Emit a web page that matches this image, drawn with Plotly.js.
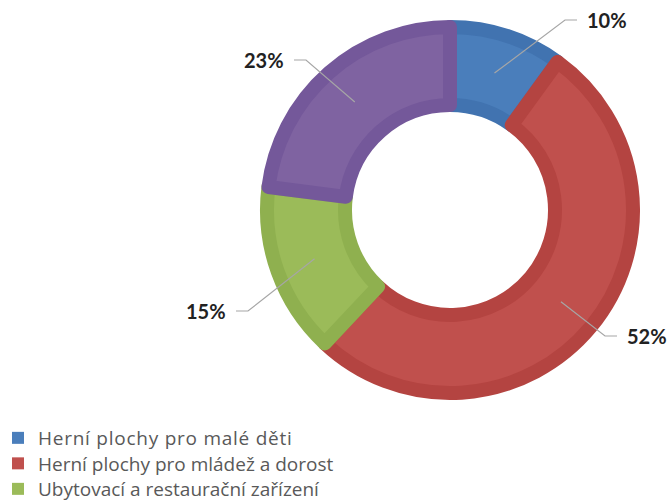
<!DOCTYPE html>
<html><head><meta charset="utf-8">
<script src="https://cdn.plot.ly/plotly-3.0.1.min.js"></script>
<style>html,body{margin:0;padding:0;background:#fff}#chart{width:667px;height:504px}
#chart .legendtext{letter-spacing:0.75px}
#chart g.scrollbox{clip-path:none !important}</style>
</head><body><div id="chart"></div>
<script>
// ---- data ----
const categories = [
  'Herní plochy pro malé děti',
  'Herní plochy pro mládež a dorost',
  'Ubytovací a restaurační zařízení',
  'Ostatní'
];
const shares = [10, 52, 15, 23];
const percentLabels = ['10%', '52%', '15%', '23%'];
const legendCount = 3; // only the first three legend rows are visible in the reference

// ---- style / layout constants ----
const W = 667, H = 504;
const faceColors = ['#4a7ebb', '#c0504d', '#9bbb59', '#7f63a1'];
const edgeColors = ['#4173b0', '#b44441', '#8fb04f', '#74589a'];
const cx = 450, cy = 210, rOuter = 190, rInner = 98, edgeW = 14;
const rGeom = rOuter - edgeW / 2;
const holeFrac = (rInner + edgeW / 2) / rGeom;
// elbow points of the leader lines (pixels), per category
const elbows = [[565, 20], [605, 336], [248, 311], [306, 60]];
const tick = 12, gap = 8;
const legendTop = 438, legendStep = 25.5, legendLeft = -2;

const px = x => x / W, py = y => 1 - y / H;

const total = shares.reduce((a, b) => a + b, 0);
let acc = 0;
const shapes = [], annotations = [];
shares.forEach((v, i) => {
  const mid = (acc + v / 2) / total * 2 * Math.PI; acc += v;
  const rm = (rOuter + rInner) / 2;
  const sx = cx + rm * Math.sin(mid), sy = cy - rm * Math.cos(mid);
  const [ex, ey] = elbows[i];
  const right = ex > cx;
  const hx = right ? ex + tick : ex - tick;
  shapes.push({type: 'path', xref: 'paper', yref: 'paper',
    path: `M${px(sx)},${py(sy)} L${px(ex)},${py(ey)} L${px(hx)},${py(ey)}`,
    line: {color: '#a6a6a6', width: 1.2}});
  annotations.push({xref: 'paper', yref: 'paper', x: px(right ? hx + gap : hx - gap), y: py(ey),
    xanchor: right ? 'left' : 'right', yanchor: 'middle', showarrow: false,
    text: '<b>' + percentLabels[i] + '</b>',
    font: {family: 'Lato, Carlito, sans-serif', size: 20, color: '#222222'}});
});

const donut = {
  type: 'pie', labels: categories, values: shares, sort: false,
  direction: 'clockwise', rotation: 0, hole: holeFrac, textinfo: 'none',
  hoverinfo: 'label+percent', showlegend: false,
  marker: {colors: faceColors, line: {color: edgeColors, width: edgeW}},
  domain: {x: [px(cx - rGeom), px(cx + rGeom)], y: [py(cy + rGeom), py(cy - rGeom)]}
};

const traces = [donut];
const layout = {
  width: W, height: H, margin: {l: 0, r: 0, t: 0, b: 0, autoexpand: false},
  paper_bgcolor: '#fff', plot_bgcolor: '#fff',
  showlegend: true,
  shapes: shapes, annotations: annotations
};
// one zero-size legend carrier per visible legend row, each in its own legend box
for (let i = 0; i < legendCount; i++) {
  const key = i === 0 ? 'legend' : 'legend' + (i + 1);
  traces.push({
    type: 'pie', labels: [categories[i]], values: [shares[i]], sort: false,
    textinfo: 'none', hoverinfo: 'skip', showlegend: true, legend: key,
    marker: {colors: [faceColors[i]], line: {width: 0}},
    domain: {x: [0, 0.0002], y: [0.9998, 1]}
  });
  layout[key] = {x: px(legendLeft), y: py(legendTop + i * legendStep), xanchor: 'left', yanchor: 'middle',
    font: {family: '"Open Sans", sans-serif', size: 19, color: '#595959'},
    itemwidth: 30, bgcolor: 'rgba(0,0,0,0)'};
}

Plotly.newPlot('chart', traces, layout, {displayModeBar: false, staticPlot: true});
</script></body></html>
